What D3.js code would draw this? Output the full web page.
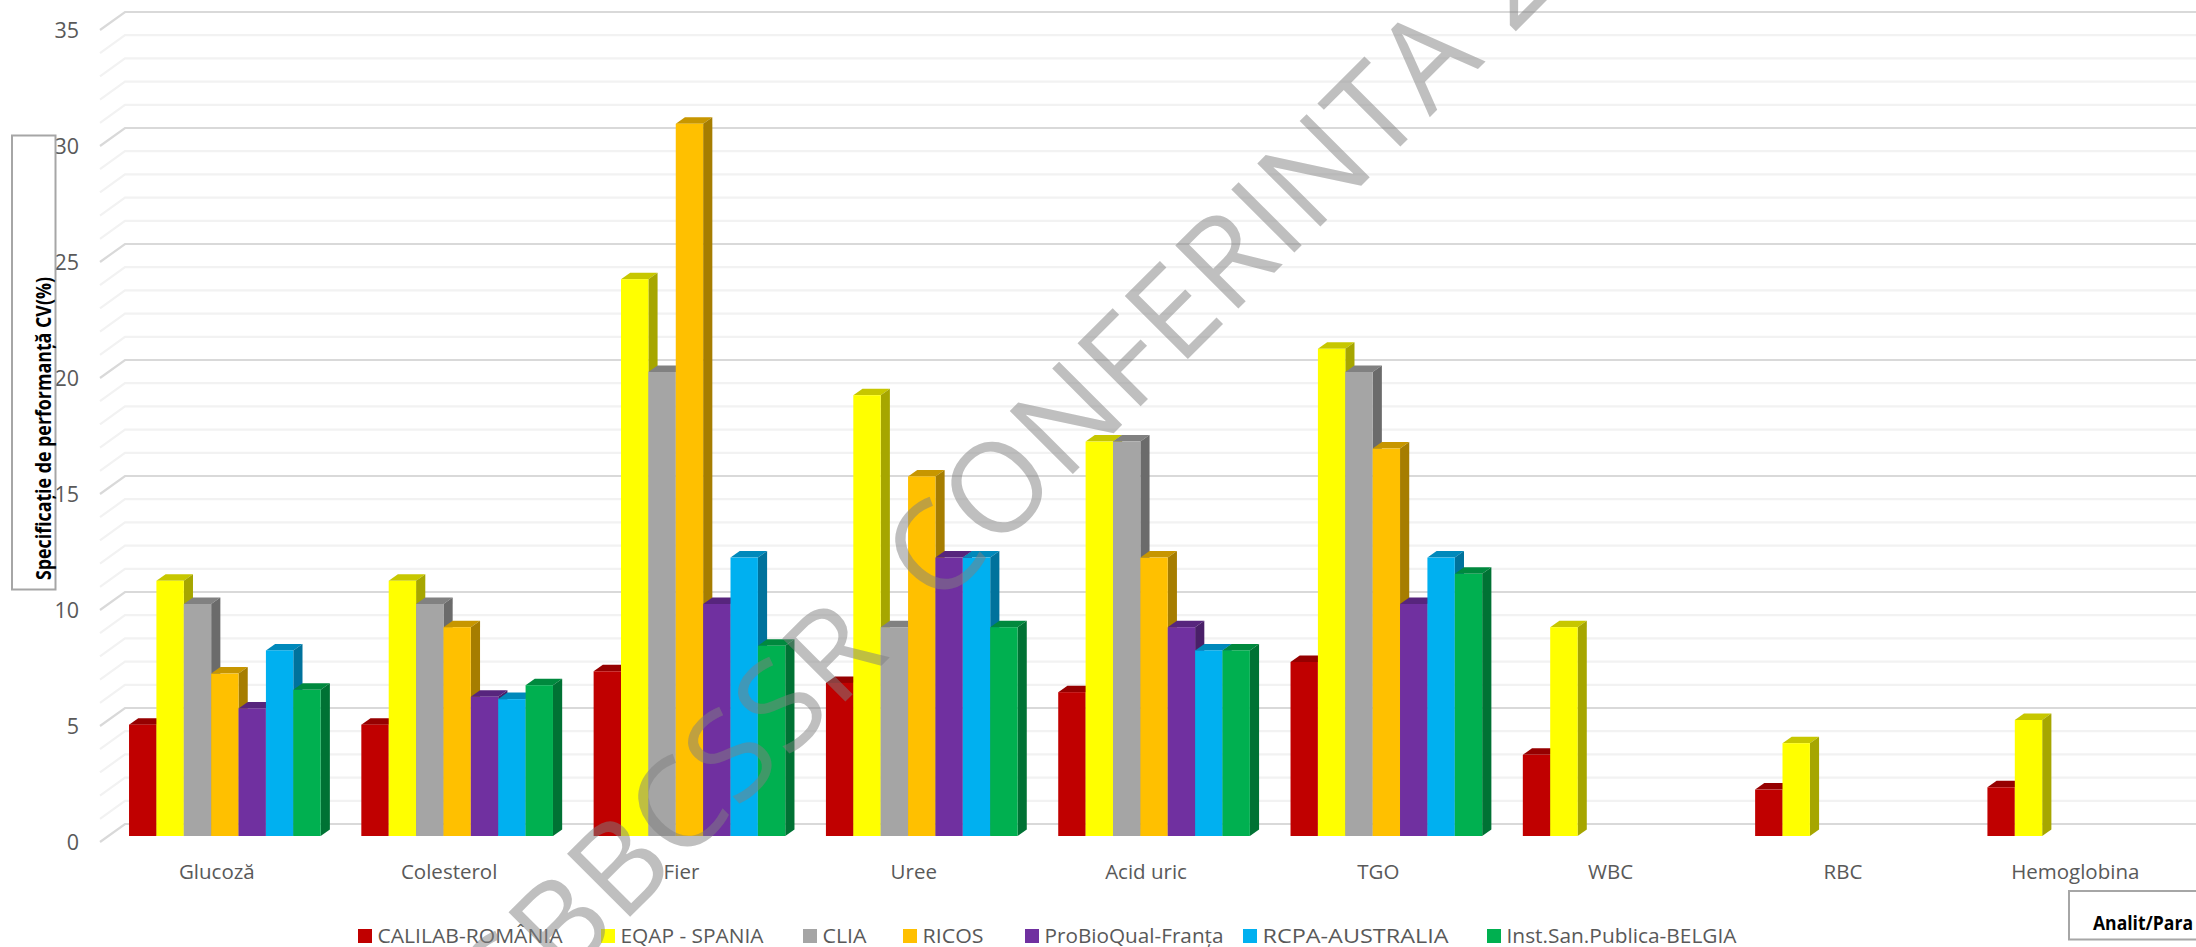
<!DOCTYPE html>
<html>
<head>
<meta charset="utf-8">
<title>Specificație de performanță CV(%)</title>
<script src="https://cdn.jsdelivr.net/npm/d3@7"></script>
<style>
html,body{margin:0;padding:0;background:#fff;overflow:hidden}
svg{display:block}
text{font-family:"Open Sans",sans-serif}
</style>
</head>
<body>
<svg id="chart" width="2196" height="947"></svg>
<script>
// ---- data ----
const categories = ["Glucoză","Colesterol","Fier","Uree","Acid uric","TGO","WBC","RBC","Hemoglobina"];
const calilab    = [4.8,4.8,7.1,6.6,6.2,7.5,3.5,2,2.1];
const eqap       = [11,11,24,19,17,21,9,4,5];
const clia       = [10,10,20,9,17,20,null,null,null];
const ricos      = [7,9,30.7,15.5,12,16.7,null,null,null];
const proBioQual = [5.5,6,10,12,9,10,null,null,null];
const rcpa       = [8,5.9,12,12,8,12,null,null,null];
const belgia     = [6.3,6.5,8.2,9,8,11.3,null,null,null];
const seriesNames = ["CALILAB-ROMÂNIA","EQAP - SPANIA","CLIA","RICOS","ProBioQual-Franța","RCPA-AUSTRALIA","Inst.San.Publica-BELGIA"];
const seriesValues = [calilab,eqap,clia,ricos,proBioQual,rcpa,belgia];
const yTickLabels = [0,5,10,15,20,25,30,35];
const yTitle = "Specificație de performanță CV(%)";
const xTitle = "Analit/Para";
const watermarkWords = ["SBBCSSR","CONFERINTA","2"];

// ---- styles / layout ----
const palette = ["#C00000","#FFFF00","#A5A5A5","#FFC000","#7030A0","#00B0F0","#00B050"];
const legendSwatchX = [358,601,803,903,1025,1243,1487];
const legendTextW = [185,143,44,61,179,186,230];
const W = 2196, H = 947, textColor = "#595959";
const depth = {x:9.2, y:6.5};
const wall = {dx:25, dy:18};

const svg = d3.select("#chart");
const yBar  = d3.scaleLinear().domain([0,35]).range([836,24]);
const yWall = d3.scaleLinear().domain([0,35]).range([824,12]);
const yLeft = d3.scaleLinear().domain([0,35]).range([842,30]);
const x0 = d3.scaleBand().domain(categories).range([108.7,108.7+9*232.3]).paddingInner(0.175).paddingOuter(0.0875);
const x1 = d3.scaleBand().domain(d3.range(seriesNames.length)).range([0,x0.bandwidth()]);
const poly = d3.line();

// gridlines: floor-to-wall diagonal + back wall
const grid = svg.append("g").attr("fill","none").attr("stroke-width",2.2);
d3.range(0,36).forEach(v=>{
  grid.append("path")
    .attr("d",poly([[100,yLeft(v)],[100+wall.dx,yWall(v)],[W,yWall(v)]]))
    .attr("stroke", v%5===0 ? "#d9d9d9" : "#f2f2f2");
});

// bars
const barsG = svg.append("g");
seriesValues.forEach((vals,si)=>{
  const c = d3.rgb(palette[si]);
  const shade = k => d3.rgb(c.r*k,c.g*k,c.b*k).formatHex();
  vals.forEach((v,ci)=>{
    if(v==null) return;
    const x = x0(categories[ci])+x1(si), w = x1.bandwidth(), y = yBar(v), b = yBar(0);
    const g = barsG.append("g");
    g.append("path").attr("fill",shade(0.78))
      .attr("d",poly([[x,y],[x+depth.x,y-depth.y],[x+w+depth.x,y-depth.y],[x+w,y]])+"Z");
    g.append("path").attr("fill",shade(0.65))
      .attr("d",poly([[x+w,y],[x+w+depth.x,y-depth.y],[x+w+depth.x,b-depth.y],[x+w,b]])+"Z");
    g.append("rect").attr("x",x).attr("y",y).attr("width",w).attr("height",b-y).attr("fill",c.formatHex());
  });
});

// y axis
const yAxis = svg.append("g").attr("transform","translate(79,0)")
  .call(d3.axisLeft(yLeft).tickValues(yTickLabels).tickSize(0).tickPadding(0));
yAxis.select(".domain").remove();
yAxis.selectAll("text").attr("font-size",21.5).attr("fill",textColor).attr("dy","0.35em")
  .style("font-family",'"Open Sans",sans-serif');

// x axis labels
const xAxis = svg.append("g").attr("transform","translate(-8,872)")
  .call(d3.axisBottom(x0).tickSize(0).tickPadding(0));
xAxis.select(".domain").remove();
xAxis.selectAll("text").attr("font-size",20.5).attr("fill",textColor).attr("y",0).attr("dy","0.35em")
  .style("font-family",'"Open Sans",sans-serif');

// legend
const legend = svg.append("g");
seriesNames.forEach((n,i)=>{
  legend.append("rect").attr("x",legendSwatchX[i]).attr("y",929).attr("width",14).attr("height",14).attr("fill",palette[i]);
  legend.append("text").attr("x",legendSwatchX[i]+19.5).attr("y",936).attr("dy","0.35em")
    .attr("font-size",20.8).attr("fill",textColor)
    .attr("textLength",legendTextW[i]).attr("lengthAdjust","spacingAndGlyphs").text(n);
});

// axis title boxes
svg.append("rect").attr("x",12).attr("y",135.5).attr("width",43.5).attr("height",454)
  .attr("fill","none").attr("stroke","#a6a6a6").attr("stroke-width",2);
svg.append("text").attr("transform","translate(51,580) rotate(-90)")
  .attr("font-size",20.5).attr("font-weight",700).attr("fill","#000")
  .attr("textLength",303).attr("lengthAdjust","spacingAndGlyphs").text(yTitle);
svg.append("path").attr("d",poly([[W+4,891],[2069,891],[2069,939.5],[W+4,939.5]]))
  .attr("fill","none").attr("stroke","#a6a6a6").attr("stroke-width",2);
svg.append("text").attr("x",2093).attr("y",930).attr("font-size",19).attr("font-weight",700).attr("fill","#000")
  .attr("textLength",100).attr("lengthAdjust","spacingAndGlyphs").text(xTitle);

// watermark
const wm = svg.append("text").attr("transform","translate(513,1034) rotate(-45)")
  .attr("font-size",125).attr("letter-spacing",2).attr("fill","#808080").attr("fill-opacity",0.5)
  .attr("text-anchor","start").attr("xml:space","preserve");
wm.append("tspan").text(watermarkWords[0]+" ");
wm.append("tspan").attr("dx",28).text(watermarkWords[1]+" ");
wm.append("tspan").text(watermarkWords[2]);
</script>
</body>
</html>
